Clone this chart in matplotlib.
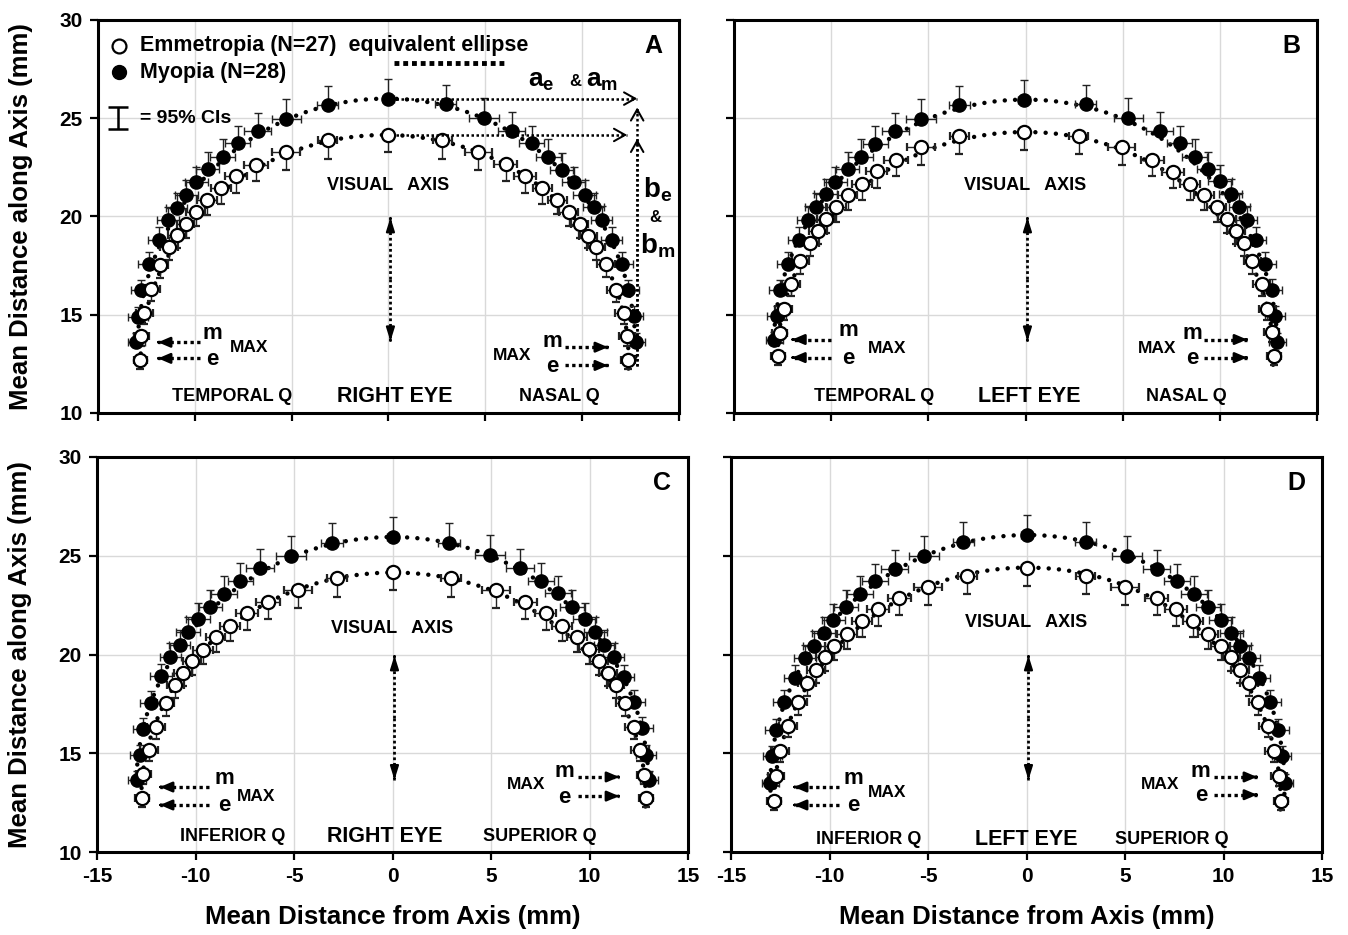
import matplotlib
matplotlib.use('Agg')
import matplotlib.pyplot as plt
from matplotlib.patches import Arc

plt.rcParams['font.family'] = ['Liberation Sans', 'DejaVu Sans']
plt.rcParams['font.weight'] = 'bold'
plt.rcParams['axes.labelweight'] = 'bold'
plt.rcParams['axes.unicode_minus'] = False
plt.rcParams['mathtext.fontset'] = 'custom'
plt.rcParams['mathtext.bf'] = 'Liberation Sans:bold'
plt.rcParams['mathtext.rm'] = 'Liberation Sans:bold'
plt.rcParams['mathtext.it'] = 'Liberation Sans:bold'

# ---- data (mm), points ordered left -> right ----
# A: right eye, horizontal meridian
a_emm_x = [-12.81, -12.76, -12.6, -12.25, -11.82, -11.34, -10.91, -10.48, -9.96, -9.38, -8.64, -7.87, -6.84, -5.29, -3.14, 0.0,
           2.78, 4.64, 6.05, 7.05, 7.94, 8.71, 9.31, 9.87, 10.31, 10.72, 11.24, 11.75, 12.15, 12.32, 12.37]
a_emm_y = [12.68, 13.90, 15.10, 16.29, 17.54, 18.44, 19.07, 19.63, 20.25, 20.85, 21.46, 22.05, 22.64, 23.27, 23.87, 24.16,
           23.87, 23.27, 22.68, 22.05, 21.46, 20.86, 20.25, 19.63, 19.03, 18.44, 17.56, 16.27, 15.10, 13.90, 12.68]
a_myo_x = [-13.02, -12.94, -12.76, -12.37, -11.86, -11.39, -10.93, -10.44, -9.93, -9.33, -8.56, -7.78, -6.75, -5.29, -3.14, 0.0,
           2.96, 4.93, 6.36, 7.39, 8.25, 8.94, 9.57, 10.14, 10.6, 11.0, 11.52, 12.06, 12.37, 12.66, 12.78]
a_myo_y = [13.61, 14.91, 16.24, 17.59, 18.81, 19.80, 20.44, 21.07, 21.74, 22.43, 23.05, 23.73, 24.34, 24.97, 25.65, 25.99,
           25.70, 25.02, 24.37, 23.73, 23.05, 22.38, 21.74, 21.07, 20.47, 19.83, 18.82, 17.59, 16.24, 14.96, 13.61]

# B: left eye, horizontal meridian
b_emm_x = [-12.75, -12.65, -12.44, -12.06, -11.58, -11.1, -10.68, -10.27, -9.75, -9.15, -8.41, -7.66, -6.66, -5.38, -3.41, -0.07,
           2.73, 4.96, 6.53, 7.59, 8.47, 9.19, 9.84, 10.36, 10.82, 11.25, 11.67, 12.15, 12.44, 12.67, 12.78]
b_emm_y = [12.88, 14.06, 15.30, 16.54, 17.71, 18.64, 19.24, 19.88, 20.47, 21.07, 21.66, 22.30, 22.90, 23.52, 24.12, 24.29,
           24.12, 23.52, 22.90, 22.29, 21.66, 21.07, 20.47, 19.88, 19.25, 18.64, 17.71, 16.54, 15.30, 14.12, 12.88]
b_myo_x = [-12.92, -12.8, -12.63, -12.23, -11.67, -11.2, -10.78, -10.29, -9.78, -9.15, -8.49, -7.73, -6.7, -5.38, -3.41, -0.07,
           3.1, 5.3, 6.9, 7.93, 8.71, 9.41, 10.01, 10.56, 11.01, 11.38, 11.85, 12.32, 12.66, 12.84, 12.96]
b_myo_y = [13.69, 14.96, 16.24, 17.59, 18.82, 19.83, 20.47, 21.12, 21.74, 22.43, 23.05, 23.70, 24.34, 24.97, 25.65, 25.94,
           25.70, 25.02, 24.37, 23.73, 23.05, 22.43, 21.80, 21.12, 20.47, 19.83, 18.82, 17.59, 16.27, 14.96, 13.61]

# C: right eye, vertical meridian
c_emm_x = [-12.73, -12.64, -12.37, -12.0, -11.52, -11.02, -10.64, -10.17, -9.63, -8.98, -8.24, -7.4, -6.33, -4.81, -2.83, 0.0,
           2.98, 5.26, 6.75, 7.77, 8.61, 9.36, 9.96, 10.47, 10.93, 11.32, 11.78, 12.25, 12.57, 12.79, 12.88]
c_emm_y = [12.74, 13.96, 15.17, 16.31, 17.53, 18.47, 19.05, 19.65, 20.25, 20.87, 21.46, 22.08, 22.67, 23.26, 23.87, 24.16,
           23.87, 23.26, 22.67, 22.08, 21.46, 20.87, 20.28, 19.65, 19.05, 18.47, 17.53, 16.31, 15.17, 13.92, 12.74]
c_myo_x = [-12.98, -12.84, -12.64, -12.25, -11.74, -11.27, -10.81, -10.39, -9.88, -9.24, -8.56, -7.72, -6.72, -5.14, -3.06, 0.0,
           2.86, 4.96, 6.48, 7.55, 8.39, 9.12, 9.75, 10.3, 10.76, 11.22, 11.73, 12.28, 12.68, 12.88, 13.01]
c_myo_y = [13.65, 14.93, 16.23, 17.55, 18.89, 19.86, 20.50, 21.12, 21.80, 22.42, 23.06, 23.74, 24.38, 25.0, 25.67, 25.96,
           25.67, 25.05, 24.38, 23.74, 23.09, 22.42, 21.80, 21.12, 20.50, 19.86, 18.84, 17.58, 16.28, 14.93, 13.65]

# D: left eye, vertical meridian
d_emm_x = [-12.8, -12.7, -12.5, -12.1, -11.6, -11.15, -10.7, -10.25, -9.75, -9.1, -8.35, -7.55, -6.45, -5.0, -3.0, 0.0,
           3.0, 5.0, 6.6, 7.6, 8.45, 9.2, 9.85, 10.4, 10.85, 11.3, 11.75, 12.25, 12.55, 12.8, 12.92]
d_emm_y = [12.6, 13.85, 15.1, 16.4, 17.6, 18.55, 19.2, 19.85, 20.45, 21.05, 21.7, 22.3, 22.85, 23.4, 24.0, 24.38,
           24.0, 23.4, 22.85, 22.3, 21.7, 21.05, 20.45, 19.85, 19.2, 18.55, 17.6, 16.4, 15.1, 13.85, 12.6]
d_myo_x = [-13.0, -12.9, -12.7, -12.3, -11.75, -11.25, -10.8, -10.3, -9.8, -9.15, -8.45, -7.7, -6.7, -5.2, -3.2, 0.0,
           3.0, 5.1, 6.6, 7.65, 8.5, 9.2, 9.85, 10.4, 10.85, 11.3, 11.8, 12.35, 12.75, 12.95, 13.1]
d_myo_y = [13.5, 14.85, 16.2, 17.6, 18.8, 19.8, 20.45, 21.1, 21.75, 22.4, 23.05, 23.7, 24.35, 25.0, 25.7, 26.05,
           25.7, 25.0, 24.35, 23.7, 23.05, 22.4, 21.75, 21.1, 20.45, 19.8, 18.8, 17.6, 16.2, 14.85, 13.5]

# 95% CI half widths (same order)
emm_yerr = [0.45, 0.5, 0.55, 0.6, 0.65, 0.65, 0.65, 0.7, 0.75, 0.75, 0.8, 0.85, 0.85, 0.9, 0.95, 0.9,
            0.95, 0.9, 0.85, 0.85, 0.8, 0.75, 0.75, 0.7, 0.65, 0.65, 0.65, 0.6, 0.55, 0.5, 0.45]
myo_yerr = [0.45, 0.5, 0.55, 0.6, 0.65, 0.7, 0.75, 0.8, 0.8, 0.85, 0.9, 0.9, 0.95, 1.0, 1.0, 1.0,
            1.0, 1.0, 0.95, 0.9, 0.9, 0.85, 0.8, 0.8, 0.75, 0.7, 0.65, 0.6, 0.55, 0.5, 0.45]
emm_xerr = [0.35, 0.4, 0.45, 0.45, 0.45, 0.45, 0.45, 0.45, 0.5, 0.5, 0.5, 0.55, 0.6, 0.7, 0.5, 0.25,
            0.5, 0.7, 0.6, 0.55, 0.5, 0.5, 0.5, 0.45, 0.45, 0.45, 0.45, 0.45, 0.45, 0.4, 0.35]
myo_xerr = [0.45, 0.5, 0.55, 0.55, 0.55, 0.55, 0.55, 0.6, 0.6, 0.6, 0.65, 0.65, 0.7, 0.75, 0.55, 0.3,
            0.55, 0.75, 0.7, 0.65, 0.65, 0.6, 0.6, 0.6, 0.55, 0.55, 0.55, 0.55, 0.55, 0.5, 0.45]

# equivalent ellipses: (x centre, y centre, a, b)
ell_emm = {'A': (-0.2, 12.7, 12.6, 11.45), 'B': (0.0, 12.9, 12.75, 11.4),
           'C': (0.05, 12.75, 12.8, 11.4), 'D': (0.05, 12.6, 12.85, 11.8)}
ell_myo = {'A': (-0.1, 13.3, 12.85, 12.7), 'B': (0.0, 13.4, 12.95, 12.55),
           'C': (0.0, 13.4, 13.0, 12.55), 'D': (0.05, 13.4, 13.05, 12.65)}

zeros = [0.0] * len(emm_yerr)

fig = plt.figure(figsize=(13.48, 9.35), dpi=100)
W, H = 1348.0, 935.0
axA = fig.add_axes([98 / W, 1 - 413 / H, 581 / W, 393 / H])
axB = fig.add_axes([734 / W, 1 - 413 / H, 583 / W, 393 / H])
axC = fig.add_axes([97 / W, 1 - 852 / H, 591 / W, 395 / H])
axD = fig.add_axes([731 / W, 1 - 852 / H, 591 / W, 395 / H])


def dotted_arrow(ax, x0, y0, x1, y1, lw=2.2, style='-|>', hl=0.7, hw=0.3, dash=(0, (1, 1))):
    ax.plot([x0, x1], [y0, y1], color='black', lw=lw, linestyle=dash, solid_capstyle='butt', zorder=4)
    dx, dy = x1 - x0, y1 - y0
    ax.annotate('', xy=(x1, y1), xytext=(x1 - dx * 0.02, y1 - dy * 0.02),
                arrowprops=dict(arrowstyle='%s,head_length=%s,head_width=%s' % (style, hl, hw),
                                color='black', lw=lw * 0.8, shrinkA=0, shrinkB=0), zorder=4)


def panel(ax, key, ex, ey, mx, my):
    for p in (ell_emm[key], ell_myo[key]):
        xc, yc, a, b = p
        ax.add_patch(Arc((xc, yc), 2 * a, 2 * b, theta1=-2, theta2=182, color='black', lw=3.2,
                         linestyle=(0, (0.01, 2.3)), capstyle='round', zorder=2))
    ax.errorbar(mx, my, xerr=myo_xerr, yerr=[zeros, myo_yerr], fmt='o', ms=9.5, mfc='black', mec='black',
                ecolor='#222222', elinewidth=1.0, capsize=3, capthick=1.0, zorder=3)
    ax.errorbar(ex, ey, xerr=emm_xerr, yerr=[emm_yerr, zeros], fmt='o', ms=9.5, mfc='white', mec='black',
                mew=1.6, ecolor='#222222', elinewidth=1.0, capsize=3, capthick=1.0, zorder=3)
    ax.set_xlim(-15, 15)
    ax.set_ylim(10, 30)
    ax.set_xticks(range(-15, 16, 5))
    ax.set_yticks(range(10, 31, 5))
    ax.grid(True, color='#d9d9d9', lw=1.0)
    ax.set_axisbelow(True)
    for s in ax.spines.values():
        s.set_linewidth(2.2)
    ax.tick_params(direction='out', length=6, width=1.6, labelsize=15, pad=5)
    # central double arrow on the visual axis
    dotted_arrow(ax, 0.1, 16.8, 0.1, 19.95, lw=2.0, hl=0.8, hw=0.25)
    dotted_arrow(ax, 0.1, 16.8, 0.1, 13.65, lw=2.0, hl=0.8, hw=0.25)
    ax.text(13.7, 28.7, key, fontsize=18, ha='center', va='center')


panel(axA, 'A', a_emm_x, a_emm_y, a_myo_x, a_myo_y)
panel(axB, 'B', b_emm_x, b_emm_y, b_myo_x, b_myo_y)
panel(axC, 'C', c_emm_x, c_emm_y, c_myo_x, c_myo_y)
panel(axD, 'D', d_emm_x, d_emm_y, d_myo_x, d_myo_y)

for ax in (axA, axB):
    ax.tick_params(labelbottom=False)
for ax in (axB, axD):
    ax.tick_params(labelleft=False)

ylab = 'Mean Distance along Axis (mm)'
xlab = 'Mean Distance from Axis (mm)'
axA.set_ylabel(ylab, fontsize=18.5)
axA.yaxis.set_label_coords(-0.112, 0.5)
axC.set_ylabel(ylab, fontsize=18.5)
axC.yaxis.set_label_coords(-0.11, 0.5)
for ax in (axC, axD):
    ax.set_xlabel(xlab, fontsize=18.5)
    ax.xaxis.set_label_coords(0.5, -0.135)

# ---- legend drawn inside panel A ----
axA.plot([-13.9], [28.7], 'o', ms=10, mfc='white', mec='black', mew=1.6)
axA.text(-12.85, 28.7, 'Emmetropia (N=27)  equivalent ellipse', fontsize=15.5, va='center')
axA.plot([-13.9], [27.35], 'o', ms=10, mfc='black', mec='black')
axA.text(-12.85, 27.35, 'Myopia (N=28)', fontsize=15.5, va='center')
axA.plot([0.3, 6.0], [27.83, 27.83], color='black', lw=3.5, linestyle=(0, (1, 0.8)), solid_capstyle='butt')
axA.errorbar([-13.95], [25.0], yerr=[0.55], fmt='none', ecolor='black', elinewidth=1.8, capsize=7, capthick=1.8)
axA.text(-12.85, 25.0, '= 95% CIs', fontsize=14, va='center')

# a and b arrows in panel A
dotted_arrow(axA, 0.4, 26.0, 12.84, 26.0, lw=1.8, style='->', hl=0.8, hw=0.45)
dotted_arrow(axA, 0.4, 24.15, 12.32, 24.15, lw=1.8, style='->', hl=0.8, hw=0.45)
dotted_arrow(axA, 12.84, 12.4, 12.84, 25.55, lw=1.8, style='->', hl=0.8, hw=0.45)
dotted_arrow(axA, 12.84, 12.4, 12.84, 23.95, lw=1.8, style='->', hl=0.8, hw=0.45)
axA.text(7.2, 26.9, r'$\mathbf{a_e}$', fontsize=19, va='center', ha='left')
axA.text(9.35, 26.85, '&', fontsize=12, va='center', ha='left')
axA.text(10.2, 26.9, r'$\mathbf{a_m}$', fontsize=19, va='center', ha='left')
axA.text(13.9, 21.35, r'$\mathbf{b_e}$', fontsize=20, va='center', ha='center')
axA.text(13.75, 19.95, '&', fontsize=12, va='center', ha='center')
axA.text(13.9, 18.5, r'$\mathbf{b_m}$', fontsize=20, va='center', ha='center')

# ---- per-panel labels ----
labels = {
    axA: ('TEMPORAL Q', 'RIGHT EYE', 'NASAL Q', -8.05, 0.3, 8.8, 10.85, 21.6),
    axB: ('TEMPORAL Q', 'LEFT EYE', 'NASAL Q', -7.8, 0.2, 8.3, 10.85, 21.6),
    axC: ('INFERIOR Q', 'RIGHT EYE', 'SUPERIOR Q', -8.1, -0.4, 7.5, 10.8, 21.3),
    axD: ('INFERIOR Q', 'LEFT EYE', 'SUPERIOR Q', -8.0, 0.0, 7.4, 10.65, 21.6),
}
for ax, (l, m, r, xl, xm, xr, yb, yv) in labels.items():
    ax.text(xl, yb, l, fontsize=13, ha='center', va='center')
    ax.text(xm, yb, m, fontsize=15.5, ha='center', va='center')
    ax.text(xr, yb, r, fontsize=13, ha='center', va='center')
    ax.text(0.0, yv, 'VISUAL   AXIS', fontsize=13, ha='center', va='center')

# MAX markers: (left arrow tip, tail, y_m, y_e, m/e x, MAX x, MAX y) and right side
max_left = {
    axA: (-11.9, -9.75, 13.6, 12.78, -9.1, -7.2, 13.34),
    axB: (-12.0, -10.0, 13.74, 12.82, -9.1, -7.1, 13.3),
    axC: (-11.8, -9.3, 13.29, 12.38, -8.55, -6.9, 12.8),
    axD: (-11.8, -9.5, 13.29, 12.38, -8.8, -7.1, 13.0),
}
max_right = {
    axA: (9.13, 11.33, 13.35, 12.42, 8.45, 6.4, 12.93),
    axB: (9.2, 11.4, 13.74, 12.82, 8.6, 6.75, 13.3),
    axC: (9.4, 11.5, 13.8, 12.83, 8.7, 6.8, 13.4),
    axD: (9.5, 11.7, 13.8, 12.9, 8.85, 6.8, 13.4),
}
for ax, (tip, tail, ym, ye, xt, xmax, ymax) in max_left.items():
    dotted_arrow(ax, tail, ym, tip, ym, lw=2.4, hl=0.7, hw=0.3)
    dotted_arrow(ax, tail, ye, tip, ye, lw=2.4, hl=0.7, hw=0.3)
    ax.text(xt, ym + 0.45, 'm', fontsize=16, ha='center', va='center')
    ax.text(xt, ye - 0.05, 'e', fontsize=16, ha='center', va='center')
    ax.text(xmax, ymax, 'MAX', fontsize=12.5, ha='center', va='center')
for ax, (tail, tip, ym, ye, xt, xmax, ymax) in max_right.items():
    dotted_arrow(ax, tail, ym, tip, ym, lw=2.4, hl=0.7, hw=0.3)
    dotted_arrow(ax, tail, ye, tip, ye, lw=2.4, hl=0.7, hw=0.3)
    ax.text(xt, ym + 0.3, 'm', fontsize=16, ha='center', va='center')
    ax.text(xt, ye - 0.05, 'e', fontsize=16, ha='center', va='center')
    ax.text(xmax, ymax, 'MAX', fontsize=12.5, ha='center', va='center')

fig.savefig('out.png', dpi=100)
